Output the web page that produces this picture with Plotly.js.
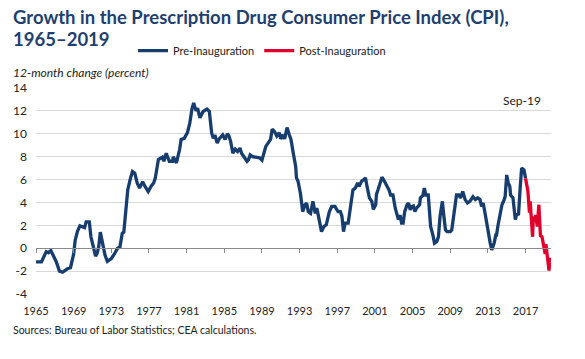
<!DOCTYPE html>
<html>
<head>
<meta charset="utf-8">
<script src="https://cdn.plot.ly/plotly-3.0.1.min.js"></script>
<style>html,body{margin:0;padding:0;background:#fff;}#chart{width:585px;height:359px;}</style>
</head>
<body>
<div id="chart"></div>
<script>
// Pre-Inauguration (blue) series: month, 12-month % change
const preDates = ["1965-01","1965-08","1966-02","1966-05","1966-08","1966-10","1967-03","1967-07","1967-11","1968-05","1968-09",
"1969-01","1969-03","1969-06","1969-09","1970-03","1970-05","1970-09","1970-11","1971-02","1971-05","1971-07","1971-09","1971-11",
"1972-02","1972-05","1972-08","1973-01","1973-05","1973-09","1973-12","1974-03","1974-05","1974-07","1974-10","1975-01","1975-04",
"1975-07","1975-10","1976-01","1976-05","1976-08","1976-12","1977-04","1977-07","1977-09","1977-11","1978-01","1978-06","1978-08",
"1978-11","1979-03","1979-07","1979-08","1979-12","1980-04","1980-06","1980-10","1981-02","1981-05","1981-08","1981-10","1982-01",
"1982-03","1982-06","1982-10","1983-03","1983-06","1983-09","1983-11","1984-01","1984-04","1984-07","1984-11","1985-02","1985-05",
"1985-07","1985-09","1985-12","1986-03","1986-06","1986-09","1986-11","1987-02","1987-06","1987-08","1987-10","1988-01","1988-05",
"1988-10","1989-01","1989-03","1989-06","1989-09","1989-12","1990-02","1990-05","1990-08","1990-11","1991-01","1991-04","1991-06",
"1991-09","1991-12","1992-02","1992-05","1992-08","1992-09","1992-11","1993-02","1993-04","1993-05","1993-08","1993-10","1993-12",
"1994-03","1994-06","1994-09","1994-11","1995-02","1995-05","1995-08","1995-11","1996-03","1996-06","1996-10","1997-02","1997-05",
"1997-07","1997-09","1997-11","1998-03","1998-06","1998-09","1998-12","1999-03","1999-05","1999-08","1999-11","2000-01","2000-03",
"2000-06","2000-09","2000-11","2001-02","2001-03","2001-05","2001-07","2001-10","2001-12","2002-04","2002-07","2002-09","2002-12",
"2003-03","2003-05","2003-07","2003-09","2003-11","2004-01","2004-03","2004-06","2004-08","2004-10","2004-12","2005-02","2005-04",
"2005-06","2005-10","2005-11","2006-02","2006-04","2006-06","2006-09","2006-10","2006-12","2007-03","2007-05","2007-08","2007-10",
"2007-12","2008-02","2008-03","2008-05","2008-07","2008-09","2009-01","2009-03","2009-05","2009-07","2009-09","2009-12","2010-02",
"2010-05","2010-08","2010-11","2011-02","2011-06","2011-09","2011-12","2012-03","2012-05","2012-07","2012-09","2012-12","2013-02",
"2013-04","2013-06","2013-09","2013-11","2013-12","2014-02","2014-04","2014-07","2014-09","2014-11","2015-01","2015-03","2015-05",
"2015-06","2015-09","2015-10","2015-12","2016-02","2016-04","2016-06","2016-08","2016-11","2017-01"];
const preValues = [-1.2,-1.2,-0.3,-0.4,-0.2,-0.5,-1.2,-2.0,-2.1,-1.8,-1.7,
-0.5,0.7,1.5,1.95,1.8,2.3,2.3,1.0,0.15,-0.7,-0.45,0.14,1.4,
0.45,-0.6,-1.15,-0.9,-0.5,0.0,0.1,1.3,1.4,3.1,5.1,6.0,6.7,
6.55,5.7,5.25,5.8,5.4,4.95,5.45,5.7,6.1,7.0,7.75,7.95,7.6,
8.3,7.6,7.6,8.0,7.45,8.6,9.5,9.6,10.1,10.9,12.25,12.7,12.0,
12.25,11.4,11.95,12.15,11.95,10.05,9.6,9.9,9.2,9.6,9.9,9.5,10.0,
9.8,9.35,8.3,8.65,8.45,8.75,8.3,8.0,7.6,7.75,8.15,8.0,7.95,
7.9,7.7,8.15,8.9,9.2,9.5,10.4,10.2,9.8,10.1,9.55,9.9,9.55,
10.55,9.9,9.5,8.3,7.15,6.15,5.85,4.8,3.95,3.2,3.8,3.95,3.2,
3.05,4.1,3.05,3.5,2.35,1.45,1.9,2.05,3.2,3.65,3.65,3.2,3.2,
2.8,1.45,2.2,2.2,3.5,5.1,5.25,5.7,5.4,5.85,6.0,6.15,5.4,
4.4,4.1,3.4,3.8,4.7,5.1,5.5,6.2,6.0,5.5,5.1,4.65,4.65,
3.5,3.05,2.5,2.9,2.2,2.2,3.2,3.8,3.95,3.35,3.65,3.7,3.2,
3.5,3.8,4.4,4.6,5.25,4.65,4.65,3.5,1.9,1.15,0.45,0.6,1.0,
2.75,3.5,4.1,2.75,1.6,1.45,1.45,1.6,2.75,3.8,4.65,4.65,4.4,
4.95,4.25,3.95,4.1,4.5,4.25,4.4,4.25,3.65,3.95,3.2,1.9,0.9,
0.45,-0.15,0.45,1.15,1.15,2.05,2.75,3.8,4.1,4.5,6.4,5.7,5.4,
4.65,4.4,3.65,2.5,3.05,2.9,5.1,7.0,6.85,6.1];

// Post-Inauguration (red) series
const postDates = ["2017-01","2017-04","2017-06","2017-07","2017-08","2017-09","2017-10","2017-11","2018-01","2018-02","2018-04",
"2018-06","2018-07","2018-08","2018-10","2018-12","2019-02","2019-03","2019-05","2019-07","2019-08","2019-09"];
const postValues = [6.1,5.0,3.1,4.1,3.0,1.9,1.0,2.75,2.5,2.9,1.9,
3.8,2.6,1.1,1.0,0.3,-0.5,0.35,-0.9,-1.95,-0.85,-1.2];

const yTicks = [-4,-2,0,2,4,6,8,10,12,14];
const xRange = ["1965-01-01","2019-09-15"];

const BLUE = "#173d6e", RED = "#e0002b";
const FONT = "Lato, 'Open Sans', sans-serif";

const traces = [
  {x: preDates, y: preValues, type: "scatter", mode: "lines", name: "Pre-Inauguration",
   line: {color: BLUE, width: 3.3}, xaxis: "x", yaxis: "y"},
  {x: postDates, y: postValues, type: "scatter", mode: "lines", name: "Post-Inauguration",
   line: {color: RED, width: 3.3}, xaxis: "x2", yaxis: "y"}
];

// pixel helpers for annotations placed around the plot area (plot: x 36..551, y 88.3..294.3)
const px = v => (v - 36) / 515;
const py = v => (294.3 - v) / 206;

const layout = {
  width: 585, height: 359,
  margin: {l: 36, r: 34, t: 88, b: 65, pad: 0},
  paper_bgcolor: "#fff", plot_bgcolor: "#fff",
  font: {family: FONT, size: 12, color: "#222"},
  showlegend: true,
  legend: {
    orientation: "h", x: px(262), xanchor: "center", y: py(51), yanchor: "middle",
    font: {family: FONT, size: 11, color: "#222"},
    bgcolor: "rgba(0,0,0,0)", itemwidth: 30, tracegroupgap: 0
  },
  xaxis: {
    type: "date", range: xRange, tick0: "1965-01-01", dtick: "M48", tickformat: "%Y",
    showgrid: false, zeroline: false, showline: false, ticks: "",
    tickfont: {family: FONT, size: 11, color: "#222"},
    ticklabelstandoff: 9, fixedrange: true
  },
  xaxis2: {
    type: "date", range: xRange, tick0: "1965-01-01", dtick: "M48",
    overlaying: "x", anchor: "free", position: 4/18, side: "bottom",
    showgrid: false, zeroline: false, showline: true, linecolor: "#8a8a8a", linewidth: 1,
    ticks: "outside", ticklen: 4, tickcolor: "#8a8a8a", tickwidth: 1,
    showticklabels: false, fixedrange: true
  },
  yaxis: {
    range: [-4, 14], tickvals: yTicks, ticktext: yTicks.map(String),
    showgrid: true, gridcolor: "#d9d9d9", gridwidth: 1, zeroline: false, showline: false,
    ticks: "", tickfont: {family: FONT, size: 12, color: "#222"},
    ticklabelstandoff: 8, fixedrange: true
  },
  annotations: [
    {text: "<b>Growth in the Prescription Drug Consumer Price Index (CPI),</b>", xref: "paper", yref: "paper",
     x: px(11), xanchor: "left", y: py(17), yanchor: "middle", showarrow: false,
     font: {family: FONT, size: 18.5, color: "#1f3f6f"}},
    {text: "<b>1965–2019</b>", xref: "paper", yref: "paper",
     x: px(11), xanchor: "left", y: py(39), yanchor: "middle", showarrow: false,
     font: {family: FONT, size: 18.5, color: "#1f3f6f"}},
    {text: "<i>12-month change (percent)</i>", xref: "paper", yref: "paper",
     x: px(11), xanchor: "left", y: py(73), yanchor: "middle", showarrow: false,
     font: {family: FONT, size: 12, color: "#222"}},
    {text: "Sep-19", xref: "paper", yref: "paper", x: px(522), xanchor: "center",
     y: py(101), yanchor: "middle", showarrow: false,
     font: {family: FONT, size: 12, color: "#222"}},
    {text: "Sources: Bureau of Labor Statistics; CEA calculations.", xref: "paper", yref: "paper",
     x: px(11), xanchor: "left", y: py(330), yanchor: "middle", showarrow: false,
     font: {family: FONT, size: 10.5, color: "#222"}}
  ]
};

Plotly.newPlot("chart", traces, layout, {staticPlot: true, displayModeBar: false});
</script>
</body>
</html>
